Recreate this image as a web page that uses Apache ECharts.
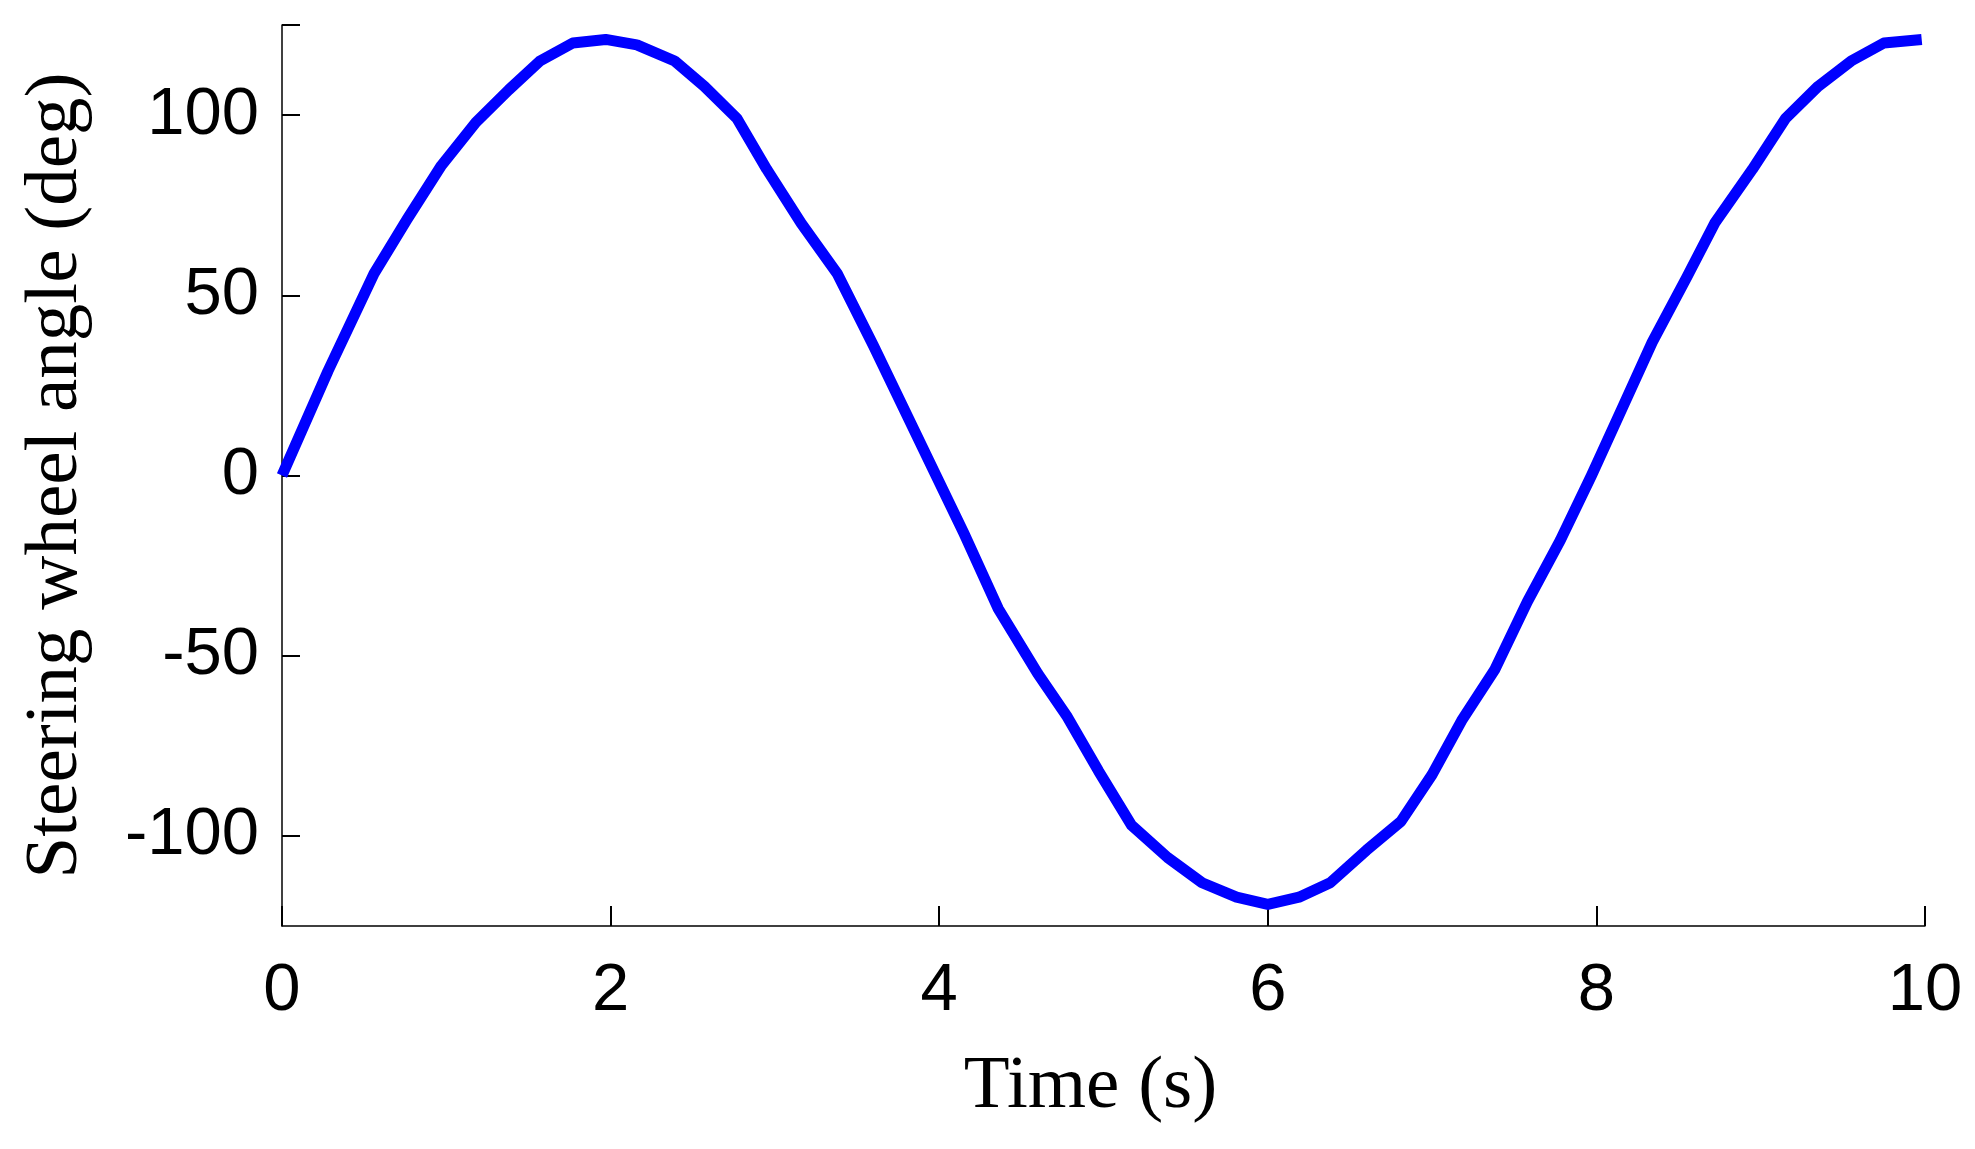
<!DOCTYPE html>
<html>
<head>
<meta charset="utf-8">
<script src="https://cdn.jsdelivr.net/npm/echarts@6/dist/echarts.min.js"></script>
<style>
  html, body { margin: 0; padding: 0; background: #fff; }
  #chart { width: 1975px; height: 1149px; }
</style>
</head>
<body>
<div id="chart"></div>
<script>
// time samples (s) and steering wheel angle (deg)
const timeS = [0, 0.28, 0.56, 0.76, 0.97, 1.18, 1.38, 1.57, 1.77, 1.97, 2.16, 2.39, 2.57, 2.77, 2.95,
  3.16, 3.38, 3.6, 3.97, 4.15, 4.36, 4.6, 4.78, 4.97, 5.17, 5.39, 5.6, 5.81, 6.0, 6.19, 6.38, 6.6,
  6.81, 7.0, 7.18, 7.38, 7.58, 7.78, 7.97, 8.17, 8.34, 8.55, 8.72, 8.95, 9.15, 9.35, 9.55, 9.75, 9.98]
const angleDeg = [0, 29, 56, 71, 86, 98, 107, 115, 120, 121, 119.5, 115, 108, 99, 85,
  70, 56, 36, 1, -16, -37, -55, -67, -82, -97, -106, -113, -117, -119, -117, -113, -104,
  -96, -83, -68, -54, -35, -18, 0, 20, 37, 55, 70, 85, 99, 108, 115, 120, 121]

const xTicks = [0, 2, 4, 6, 8, 10]
const yLabels = [-100, -50, 0, 50, 100]
const yTicks = [-100, -50, 0, 50, 100, 125]

const chart = echarts.init(document.getElementById('chart'))

const axisColor = '#000'
const numFont = { fontFamily: 'Liberation Sans', fontSize: 67, color: '#000' }
const nameFont = { fontFamily: 'Liberation Serif', fontSize: 75, color: '#000' }

chart.setOption({
  animation: false,
  backgroundColor: '#fff',
  grid: { left: 282, right: 50, top: 25, bottom: 223 },
  xAxis: {
    type: 'value',
    min: 0,
    max: 10,
    interval: 2,
    name: 'Time (s)',
    nameLocation: 'middle',
    nameGap: 124,
    nameTextStyle: { ...nameFont, padding: [0, 26, 0, 0] },
    axisLine: { show: true, onZero: false, lineStyle: { color: axisColor, width: 1.5 } },
    axisTick: { show: true, inside: true, length: 20, customValues: xTicks, lineStyle: { color: axisColor, width: 2 } },
    axisLabel: { show: true, margin: 32, customValues: xTicks, ...numFont },
    splitLine: { show: false }
  },
  yAxis: {
    type: 'value',
    min: -125,
    max: 125,
    name: 'Steering wheel angle (deg)',
    nameLocation: 'middle',
    nameGap: 188,
    nameTextStyle: nameFont,
    axisLine: { show: true, onZero: false, lineStyle: { color: axisColor, width: 1.5 } },
    axisTick: { show: true, inside: true, length: 18, customValues: yTicks, lineStyle: { color: axisColor, width: 2 } },
    axisLabel: { show: true, margin: 23, customValues: yLabels, ...numFont },
    splitLine: { show: false }
  },
  series: [{
    type: 'line',
    data: timeS.map((t, i) => [t, angleDeg[i]]),
    showSymbol: false,
    smooth: false,
    lineStyle: { color: '#0000ff', width: 11, join: 'round' }
  }]
})
</script>
</body>
</html>
